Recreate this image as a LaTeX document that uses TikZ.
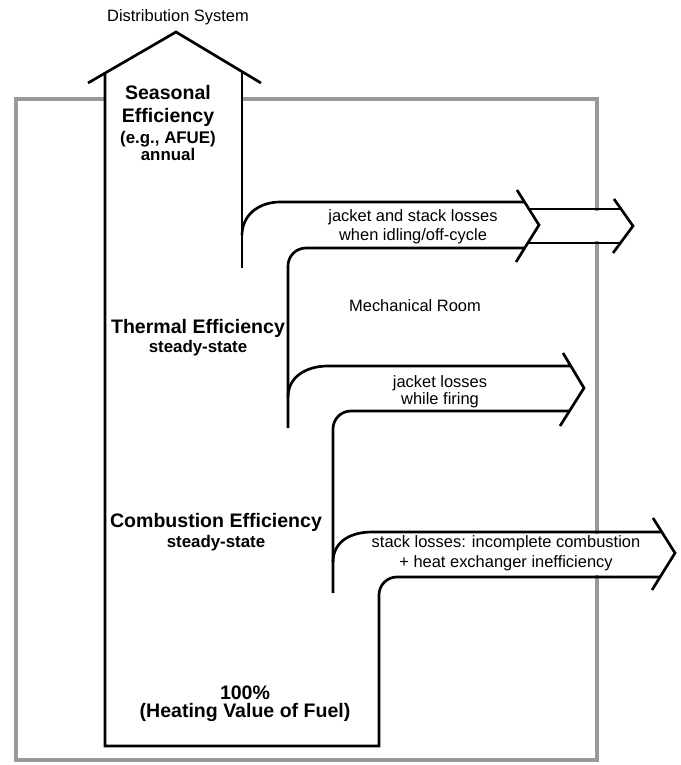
\documentclass[tikz,border=0pt]{standalone}
\usepackage{fontspec}
\setmainfont{Liberation Sans}
\tikzset{flow/.style={line width=1.9pt}}
\tikzset{room/.style={line width=2.6pt,draw=black!40}}
\tikzset{lbl/.style={font=\fontsize{11.7}{13.5}\selectfont,align=center,inner sep=0pt}}
\tikzset{head/.style={font=\fontsize{13.9}{15.8}\selectfont\bfseries,align=center,inner sep=0pt}}
\tikzset{sub/.style={font=\fontsize{12}{11.8}\selectfont\bfseries,align=center,inner sep=0pt}}

\begin{document}
\begin{tikzpicture}[x=0.025cm,y=-0.025cm]
  \useasboundingbox (0,0) rectangle (681,765);

  % mechanical room
  \draw[room] (105,99) -- (16,99) -- (16,760) -- (597,760) -- (597,99) -- (242,99);
  \fill[white] (529,211) rectangle (619,241);
  \fill[white] (372,534) rectangle (655,575);

  % main column and distribution arrow
  \draw[flow] (105,72) -- (105,746) -- (379,746) -- (379,595)
    .. controls (379,585) and (387,577) .. (397,577) -- (660,577);
  \draw[flow] (88,83) -- (176,32) -- (261,83);
  \draw[flow] (242,72) -- (242,268);

  % idling / off-cycle
  \draw[flow]
    (242,235) .. controls (242,215) and (259,202) .. (280,202) -- (524.5,202);
  \draw[flow]
    (524.7,248) -- (306,248) .. controls (296,248) and (288,256) .. (288,266) -- (288,428);
  \draw[flow] (517,190) -- (539,225) -- (516,262);
  \draw[flow] (529,209) -- (621,209);
  \draw[flow] (528,243) -- (620.4,243);
  \draw[flow] (614,199) -- (633,226) -- (613,253);

  % while firing
  \draw[flow]
    (288,397) .. controls (288,377) and (306,366) .. (328,366) -- (570.8,366);
  \draw[flow]
    (569.5,411) -- (351,411) .. controls (341,411) and (333,419) .. (333,429) -- (333,593);
  \draw[flow] (563,353) -- (584,388) -- (560,426);

  % stack
  \draw[flow]
    (333,562) .. controls (333,542) and (350,532) .. (372,532) -- (661.8,532);
  \draw[flow] (653,518) -- (675,553) -- (652,590);

  % labels
  \node[lbl] (dist) at (178,17) {Distribution System};
  \node[head] (seas) at (168,106) {Seasonal\\Efficiency};
  \node[sub] (afue) at (168,146) {(e.g., AFUE)\\annual};
  \node[head] (therm) at (198,328) {Thermal Efficiency};
  \node[sub] (thermss) at (198,348) {steady-state};
  \node[head] (comb) at (216,522) {Combustion Efficiency};
  \node[sub] (combss) at (216,543) {steady-state};
  \node[head,font=\fontsize{13.9}{12.6}\selectfont\bfseries] (fuel) at (245,704)
    {100\%\\(Heating Value of Fuel)};
  \node[lbl] (mech) at (415,306) {Mechanical Room};
  \node[lbl] (idle) at (413,226.5) {jacket and stack losses\\when idling/off-cycle};
  \node[lbl,font=\fontsize{11.7}{12.2}\selectfont] (fire) at (440,391.5)
    {jacket losses\\while firing};
  \node[lbl,font=\fontsize{11.7}{14.2}\selectfont] (stack) at (506,553)
    {stack losses: incomplete combustion\\+ heat exchanger inefficiency};

\end{tikzpicture}
\end{document}
